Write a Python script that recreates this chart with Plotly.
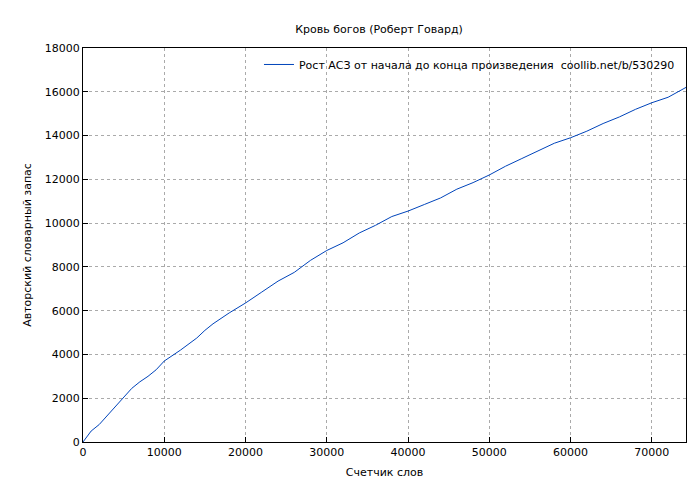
import plotly.graph_objects as go

# word counter vs. author's vocabulary
words = [0, 1000, 2000, 3000, 4000, 5000, 6000, 7000, 8000, 9000, 10000, 12000,
         14000, 15000, 16000, 18000, 20000, 22000, 24000, 26000, 28000, 30000,
         32000, 34000, 36000, 38000, 40000, 42000, 44000, 46000, 48000, 50000,
         52000, 54000, 56000, 58000, 60000, 62000, 64000, 66000, 68000, 70000,
         72000, 74200]
vocab = [0, 500, 800, 1200, 1600, 2000, 2450, 2750, 3000, 3300, 3700, 4200,
         4750, 5100, 5400, 5900, 6350, 6850, 7350, 7750, 8300, 8750,
         9100, 9550, 9900, 10300, 10550, 10850, 11150, 11550, 11850, 12200,
         12600, 12950, 13300, 13650, 13900, 14200, 14550, 14850, 15200, 15500,
         15750, 16200]

fig = go.Figure()
fig.add_trace(go.Scatter(
    x=words, y=vocab, mode='lines',
    name='Рост АСЗ от начала до конца произведения  coollib.net/b/530290',
    line=dict(color='#0044bb', width=1)))

axis = dict(showline=True, linecolor='black', mirror=True, ticks='inside',
            ticklen=5, tickcolor='black', showgrid=True, gridcolor='#aaa',
            griddash='dot', gridwidth=1, zeroline=False, automargin=False,
            tickformat='d', tickfont=dict(size=11))

fig.update_layout(
    width=700, height=480,
    paper_bgcolor='white', plot_bgcolor='white',
    font=dict(family='DejaVu Sans', size=11, color='black'),
    title=dict(text='Кровь богов (Роберт Говард)', x=0.53, y=0.965,
               xanchor='center', font=dict(size=11)),
    margin=dict(l=75, r=22, t=40, b=46, autoexpand=False),
    xaxis=dict(axis, range=[0, 74200], dtick=10000,
               title=dict(text='Счетчик слов', standoff=10, font=dict(size=11))),
    yaxis=dict(axis, range=[0, 18000], dtick=2000,
               title=dict(text='Авторский словарный запас', standoff=10,
                          font=dict(size=11))),
    legend=dict(x=0.99, y=0.995, xanchor='right', yanchor='top',
                bgcolor='rgba(0,0,0,0)', font=dict(size=11)),
    showlegend=True,
)

fig.write_html('out.html')
